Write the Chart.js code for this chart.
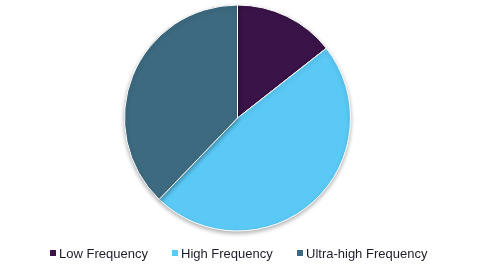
<!DOCTYPE html>
<html>
<head>
<meta charset="utf-8">
<script src="https://cdn.jsdelivr.net/npm/chart.js@4.4.0/dist/chart.umd.min.js"></script>
<style>
  html, body { margin: 0; padding: 0; background: #fff; }
  #wrap { position: relative; width: 481px; height: 275px; }
  #legend { position: absolute; left: 0; top: 247px; width: 481px; height: 16px; font-family: "Liberation Sans", Arial, sans-serif; font-size: 13px; color: #1e1e2a; }
  .item { position: absolute; top: 0; white-space: nowrap; line-height: 13px; padding-left: 9px; }
  .box { position: absolute; left: 0; top: 3px; width: 6px; height: 6px; }
</style>
</head>
<body>
<div id="wrap">
  <canvas id="c" width="481" height="275"></canvas>
  <div id="legend"></div>
</div>
<script>
const categories = ["Low Frequency", "High Frequency", "Ultra-high Frequency"];
const shares = [14.4, 47.8, 37.8];
const colors = ["#3A1449", "#5BC9F5", "#3D6A80"];
const legendX = [50, 172, 297];

const shadowPlugin = {
  id: 'shadow',
  beforeDatasetsDraw(chart) {
    const ctx = chart.ctx;
    ctx.save();
    ctx.shadowColor = 'rgba(0,0,0,0.3)';
    ctx.shadowBlur = 4;
    ctx.shadowOffsetX = 0;
    ctx.shadowOffsetY = 2;
  },
  afterDatasetsDraw(chart) {
    chart.ctx.restore();
  }
};

new Chart(document.getElementById('c'), {
  type: 'pie',
  data: {
    labels: categories,
    datasets: [{
      data: shares,
      backgroundColor: colors,
      borderColor: '#ffffff',
      borderWidth: 1
    }]
  },
  options: {
    responsive: false,
    animation: false,
    layout: { padding: { top: 4.5, bottom: 43.5, left: 0, right: 6 } },
    plugins: {
      legend: { display: false },
      tooltip: { enabled: false }
    }
  },
  plugins: [shadowPlugin]
});

const lg = document.getElementById('legend');
categories.forEach((name, i) => {
  const d = document.createElement('div');
  d.className = 'item';
  d.style.left = legendX[i] + 'px';
  d.innerHTML = '<span class="box" style="background:' + colors[i] + '"></span>' + name;
  lg.appendChild(d);
});
</script>
</body>
</html>
